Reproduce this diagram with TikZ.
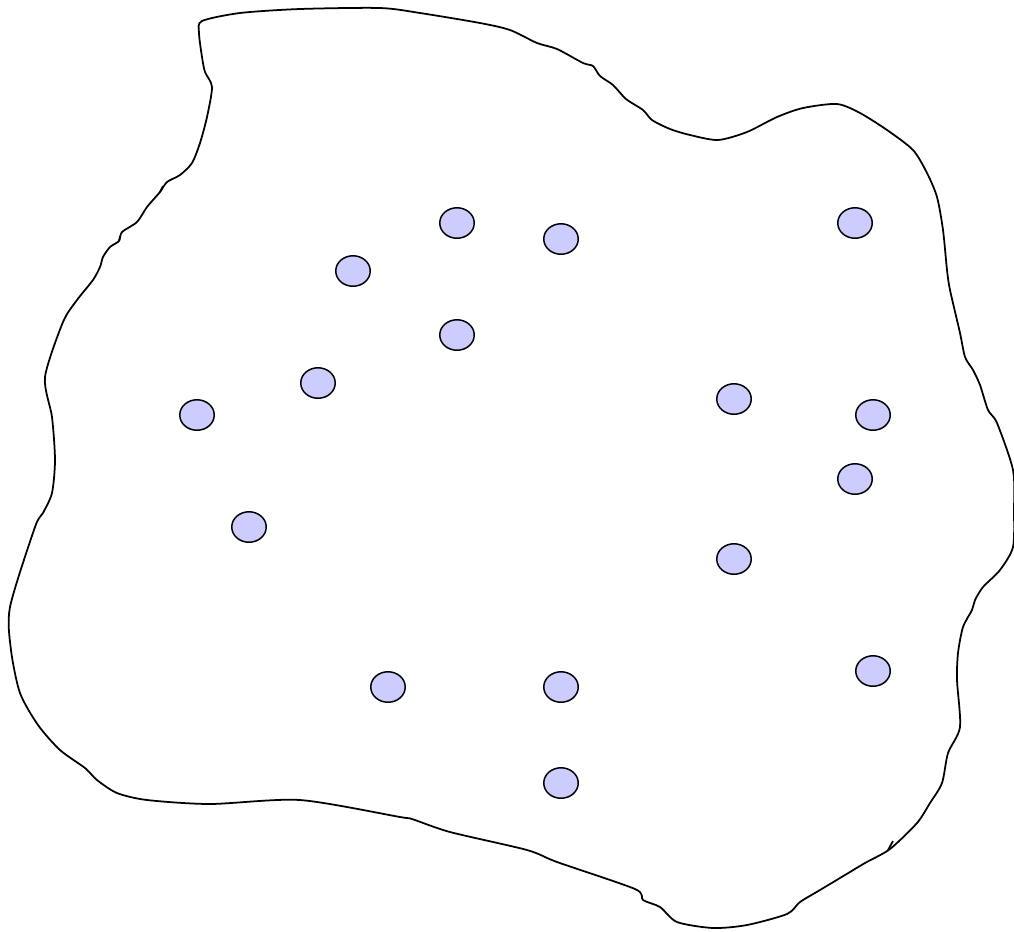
\documentclass[tikz,border=0pt]{standalone}
\usetikzlibrary{shapes.geometric}
\definecolor{dotblue}{HTML}{CCCCFF}
\tikzset{
  every picture/.style={line width=0.85pt},
  dot/.style={draw,ellipse,fill=dotblue,minimum width=0.69cm,minimum height=0.61cm,inner sep=0pt},
  rim/.style={line width=1pt,line join=round},
}

\begin{document}
\begin{tikzpicture}[x=0.02cm,y=-0.02cm]
\useasboundingbox (0,0) rectangle (1014,931);
% --- outline of the region ---
\draw[rim] plot[smooth cycle,tension=0.45] coordinates {
  (202,21) (240,13) (300,9) (380,8) (420,13) (480,23) (510,30) (537,43)
  (557,49) (583,63) (593,66) (600,76) (613,85) (626,99) (643,110) (652,120)
  (670,129) (690,135) (718,140) (747,132) (777,117) (803,108) (837,104)
  (860,113) (887,130) (913,150) (927,173) (937,197) (943,230) (947,270)
  (950,290) (960,333) (965,357) (973,370) (980,385) (988,410) (997,423)
  (1013,470) (1014,510) (1013,547) (1000,570) (983,587) (975,600) (972,610)
  (963,627) (958,653) (957,680) (960,727) (948,753) (942,783) (930,803)
  (917,823) (890,849) (865,863) (840,878) (820,890) (800,902) (787,914)
  (747,925) (713,928) (677,922) (660,907) (643,900) (635,889) (557,862)
  (527,850) (450,832) (412,819) (400,817) (300,800) (210,804) (147,800)
  (117,793) (97,780) (85,768) (60,750) (38,725) (20,693) (11,650) (10,607)
  (35,527) (43,513) (52,493) (55,460) (52,417) (45,377) (63,322) (77,300)
  (93,280) (100,267) (103,257) (110,247) (119,241) (122,232) (137,222)
  (147,207) (160,192) (167,182) (180,175) (192,163) (200,143) (207,117)
  (212,87) (205,72) (202,57) (199,33)};
% small hooks on the rim
\draw[rim] (888,850) -- (893,841);
\draw[rim] (160,192) -- (163,186);
\draw[rim] (119,241) -- (120,236);
% --- dots ---
\foreach \i/\x/\y in {1/457/223, 2/561/239, 3/855/223, 4/353/271,
  5/457/335, 6/318/383, 7/197/415, 8/734/399, 9/873/415, 10/855/479,
  11/249/527, 12/734/559, 13/388/687, 14/561/687, 15/873/671, 16/561/783}
  \node[dot] (d\i) at (\x,\y) {};
\end{tikzpicture}
\end{document}
